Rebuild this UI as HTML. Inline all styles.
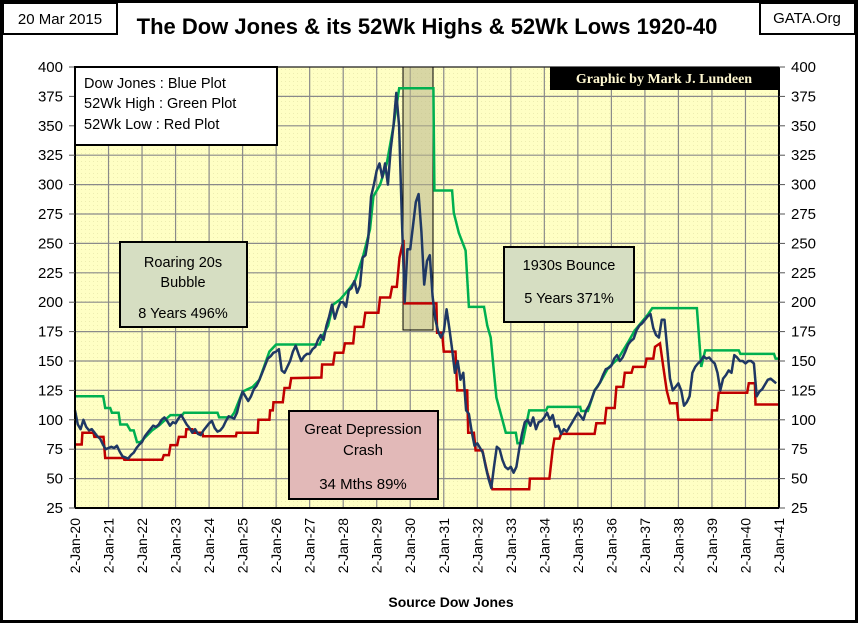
<!DOCTYPE html>
<html><head><meta charset="utf-8"><style>
html,body{margin:0;padding:0;background:#fff}
svg{display:block;font-family:"Liberation Sans",sans-serif}
</style></head><body>
<svg id="c" width="858" height="623" viewBox="0 0 858 623">
<defs>
<pattern id="dots" width="4" height="4" patternUnits="userSpaceOnUse"><rect width="4" height="4" fill="#FFFFC4"/><rect x="1" y="1" width="1" height="1" fill="#EDEDB0"/></pattern>
</defs>
<rect x="1.5" y="1.5" width="855" height="620" fill="#fff" stroke="#000" stroke-width="3"/>
<rect x="75" y="67" width="704" height="441" fill="url(#dots)"/>
<g id="grid"></g>
<rect x="403" y="67" width="30" height="263" fill="#B8B48A" fill-opacity="0.55" stroke="#000" stroke-width="1"/>
<g id="series"></g>
<line x1="75" y1="67" x2="75" y2="508" stroke="#000" stroke-width="2"/>
<line x1="75" y1="508" x2="779" y2="508" stroke="#000" stroke-width="2"/>
<line x1="779" y1="67" x2="779" y2="508" stroke="#000" stroke-width="2"/>
<line x1="75" y1="67" x2="779" y2="67" stroke="#000" stroke-width="1"/>
<g id="axes"></g>
<rect x="3" y="3" width="114" height="31" fill="#fff" stroke="#000" stroke-width="2"/>
<text x="60" y="24" font-size="15" text-anchor="middle">20 Mar 2015</text>
<text x="427" y="34" font-size="22" font-weight="bold" text-anchor="middle">The Dow Jones &amp; its 52Wk Highs &amp; 52Wk Lows 1920-40</text>
<rect x="760" y="3" width="95" height="31" fill="#fff" stroke="#000" stroke-width="2"/>
<text x="807" y="23" font-size="15" text-anchor="middle">GATA.Org</text>
<rect x="550" y="67" width="229" height="23" fill="#000"/>
<text x="664" y="83" font-size="14" font-weight="bold" fill="#FFF8D0" text-anchor="middle" font-family="Liberation Serif,serif">Graphic by Mark J. Lundeen</text>
<g>
<rect x="75" y="67" width="202" height="78" fill="#fff" stroke="#000" stroke-width="2"/>
<text x="84" y="88" font-size="14.5">Dow Jones : Blue Plot</text>
<text x="84" y="108" font-size="14.5">52Wk High  : Green Plot</text>
<text x="84" y="129" font-size="14.5">52Wk Low  : Red Plot</text>
</g>
<g>
<rect x="120" y="242" width="127" height="85" fill="#D6DEC2" stroke="#000" stroke-width="2"/>
<text x="183" y="267" font-size="14.5" text-anchor="middle">Roaring 20s</text>
<text x="183" y="287" font-size="14.5" text-anchor="middle">Bubble</text>
<text x="183" y="318" font-size="14.5" text-anchor="middle">8 Years  496%</text>
</g>
<g>
<rect x="289" y="411" width="149" height="88" fill="#E2B9B8" stroke="#000" stroke-width="2"/>
<text x="363" y="434" font-size="15" text-anchor="middle">Great Depression</text>
<text x="363" y="455" font-size="15" text-anchor="middle">Crash</text>
<text x="363" y="489" font-size="15" text-anchor="middle">34 Mths  89%</text>
</g>
<g>
<rect x="504" y="247" width="130" height="75" fill="#D6DEC2" stroke="#000" stroke-width="2"/>
<text x="569" y="270" font-size="14.5" text-anchor="middle">1930s Bounce</text>
<text x="569" y="303" font-size="14.5" text-anchor="middle">5 Years  371%</text>
</g>
<text x="451" y="607" font-size="14" font-weight="bold" text-anchor="middle">Source Dow Jones</text>
</svg>
<script>
const yTicks=[25,50,75,100,125,150,175,200,225,250,275,300,325,350,375,400];
const xTickLabels=["2-Jan-20","2-Jan-21","2-Jan-22","2-Jan-23","2-Jan-24","2-Jan-25","2-Jan-26","2-Jan-27","2-Jan-28","2-Jan-29","2-Jan-30","2-Jan-31","2-Jan-32","2-Jan-33","2-Jan-34","2-Jan-35","2-Jan-36","2-Jan-37","2-Jan-38","2-Jan-39","2-Jan-40","2-Jan-41"];
const dowStartYear=1920;
const dowMonthly=[
108,96,92,100,94,91,92,89,86,84,79,75,
76,77,76,78,73,69,68,67,70,72,76,79,
81,86,89,92,95,94,96,100,102,99,95,98,
97,101,104,100,96,93,89,92,88,87,91,94,
97,99,93,90,91,94,99,103,102,101,106,116,
124,120,116,120,126,129,134,140,146,152,154,157,
158,160,142,140,145,150,158,163,156,150,154,156,
156,160,162,168,172,168,180,188,198,186,194,200,
200,196,210,212,218,208,214,238,240,255,290,300,
312,318,306,318,300,330,350,378,350,270,200,245,
245,265,285,292,260,215,235,240,205,185,175,170,
175,194,178,160,140,150,134,140,108,105,90,78,
80,76,72,60,50,42,60,77,75,66,60,58,
60,55,60,75,88,98,100,95,102,92,98,99,
102,106,100,104,94,95,88,92,90,94,98,102,
106,103,100,108,112,118,125,128,132,138,143,144,
146,152,155,150,153,158,164,167,169,176,180,182,
185,188,190,178,172,170,185,185,160,135,125,128,
131,125,112,115,120,140,145,148,150,154,152,153,
150,148,140,125,135,138,142,140,155,153,150,150,
148,150,150,148,120,124,126,130,134,135,133,131];
const highDates=[1920.0,1920.84,1920.9,1921.05,1921.1,1921.3,1921.35,1921.55,1921.65,1921.75,1921.85,1921.95,1922.3,1922.5,1922.75,1922.85,1923.2,1923.25,1924.25,1924.3,1924.65,1924.75,1925.0,1925.3,1925.5,1925.65,1925.8,1926.0,1927.3,1927.4,1927.55,1927.7,1927.9,1928.2,1928.35,1928.6,1928.8,1928.9,1929.1,1929.3,1929.5,1929.67,1930.69,1930.72,1931.25,1931.3,1931.45,1931.65,1931.75,1932.2,1932.3,1932.4,1932.5,1932.57,1932.75,1932.85,1933.15,1933.2,1933.35,1933.55,1934.05,1934.1,1935.07,1935.1,1935.3,1935.5,1935.67,1935.9,1936.2,1936.5,1936.7,1936.9,1937.1,1937.22,1938.55,1938.68,1938.8,1939.8,1939.85,1940.85,1940.9,1941.0];
const highValues=[120,120,110,110,106,106,96,96,91,91,81,81,91,95,101.5,104,104,106,106,102,102,106,124,128,134,146,158,164,164,172,180,198,202,212,218,240,262,290,300,318,350,382,382,295,295,276,259,244,196,196,180,170,140,119,100,89,89,80,80,108,108,111,111,107.5,107.5,125,132,144,152,166,176,183,190,195,195,145,159,159,156,156,152,152];
const lowDates=[1920.0,1920.2,1920.22,1920.55,1920.58,1920.85,1920.9,1921.45,1921.47,1922.6,1922.65,1922.8,1922.85,1923.05,1923.1,1923.3,1923.32,1923.5,1923.52,1923.8,1923.82,1924.8,1924.82,1925.45,1925.47,1925.8,1925.82,1925.9,1925.92,1926.2,1926.25,1926.4,1926.45,1927.35,1927.37,1927.7,1927.75,1928.0,1928.05,1928.3,1928.35,1928.6,1928.66,1929.05,1929.1,1929.4,1929.46,1929.6,1929.68,1929.8,1929.82,1930.78,1930.8,1930.95,1931.0,1931.35,1931.4,1931.7,1931.73,1931.9,1931.95,1932.15,1932.3,1932.45,1933.55,1933.57,1934.15,1934.25,1934.3,1934.45,1934.5,1935.5,1935.55,1935.8,1935.85,1936.1,1936.15,1936.35,1936.4,1936.6,1936.65,1937.0,1937.05,1937.25,1937.3,1937.45,1937.55,1937.65,1937.75,1937.95,1938.0,1938.99,1939.0,1939.15,1939.2,1940.05,1940.1,1940.28,1940.3,1941.0];
const lowValues=[79,79,89,89,85.5,85.5,67.5,67.5,66,66,70,70,78.5,78.5,85.5,85.5,92,92,89,89,86,86,89,89,100,100,108,108,115,115,127,127,135.5,136,147,147,157,157,165,165,179,179,191,191,204,204,213,213,238,253,199,199,174,174,158,158,125,125,89,89,74,74,55,41,41,50,50,75,84,84,88,88,97,97,110,110,128,128,140,140,145,145,152,152,162,165,145,125,114,114,100,100,108,108,123,123,131,131,113,113];

const NS="http://www.w3.org/2000/svg";
const X0=75,X1=779,Y0=508,Y1=67;
function xs(t){return X0+(t-1920)/21*(X1-X0);}
function ys(v){return Y0-(v-25)/375*(Y0-Y1);}
function mk(tag,attrs,parent){const e=document.createElementNS(NS,tag);for(const k in attrs)e.setAttribute(k,attrs[k]);parent.appendChild(e);return e;}
const grid=document.getElementById('grid'),axes=document.getElementById('axes'),series=document.getElementById('series');
yTicks.forEach(v=>{
  const y=ys(v);
  const gl=mk('line',{x1:X0,x2:X1,y1:y,y2:y,stroke:'#8a8a8a','stroke-width':1.2},grid);
  
  
  mk('line',{x1:X0-6,x2:X0,y1:y,y2:y,stroke:'#555'},axes);
  mk('line',{x1:X1,x2:X1+6,y1:y,y2:y,stroke:'#555'},axes);
  const t1=mk('text',{x:X0-12,y:y+5,'font-size':15,'text-anchor':'end'},axes);t1.textContent=v;
  
  
  const t2=mk('text',{x:X1+12,y:y+5,'font-size':15},axes);t2.textContent=v;
  
  
});
xTickLabels.forEach((lab,i)=>{
  const x=xs(1920+i);
  const gl=mk('line',{x1:x,x2:x,y1:Y1,y2:Y0,stroke:'#8a8a8a','stroke-width':1.2},grid);
  
  
  const t=mk('text',{x:0,y:0,'font-size':14,'text-anchor':'end',transform:`translate(${x+5},518) rotate(-90)`},axes);
  t.textContent=lab;
  
  
});
function pathFrom(ds,vs){return ds.map((d,i)=>(i?'L':'M')+xs(d).toFixed(1)+','+ys(vs[i]).toFixed(1)).join('');}
const lowP=mk('path',{d:pathFrom(lowDates,lowValues),fill:'none',stroke:'#C00000','stroke-width':2.5},series);


const highP=mk('path',{d:pathFrom(highDates,highValues),fill:'none',stroke:'#00B050','stroke-width':2.5},series);


const dowDates=dowMonthly.map((v,i)=>dowStartYear+i/12);
const dowP=mk('path',{d:pathFrom(dowDates,dowMonthly),fill:'none',stroke:'#1F3864','stroke-width':2.5,'stroke-linejoin':'round'},series);


</script>
</body></html>
